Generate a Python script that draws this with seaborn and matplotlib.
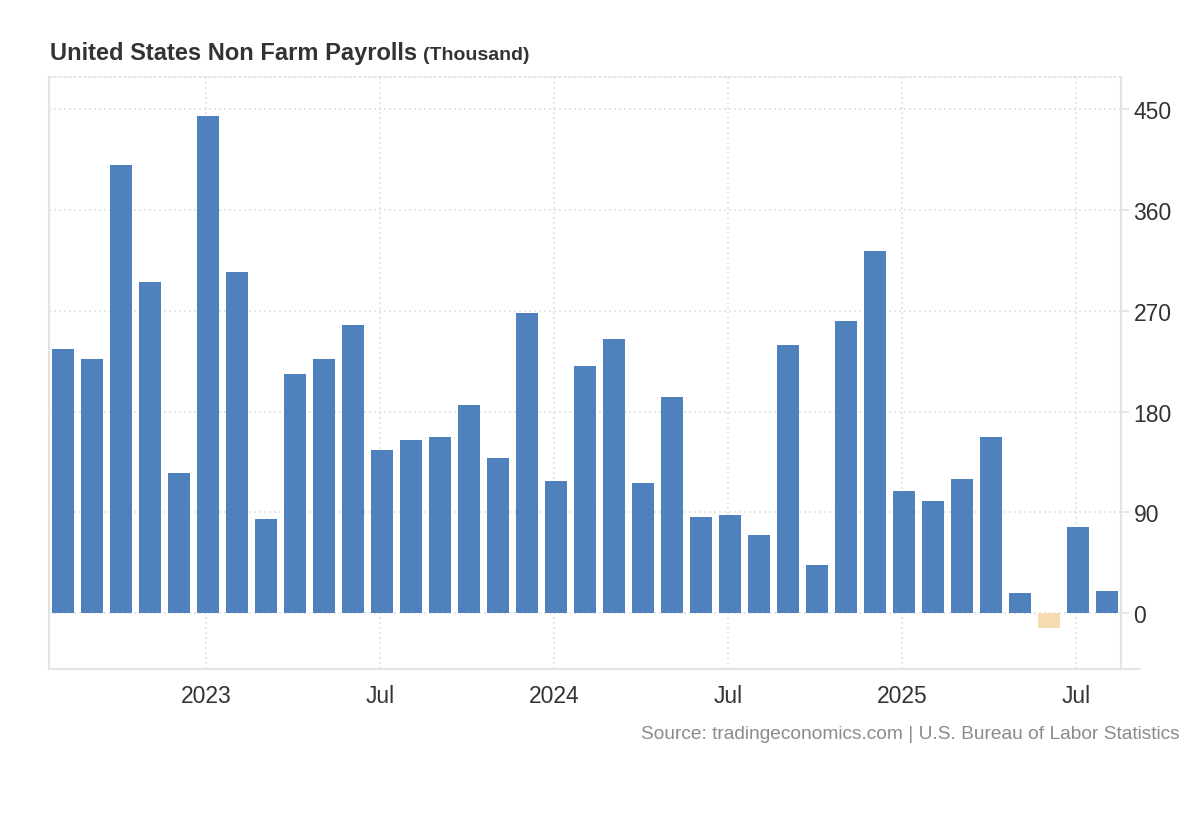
import matplotlib
matplotlib.use("Agg")
import matplotlib.pyplot as plt
from matplotlib.lines import Line2D
import seaborn as sns
import pandas as pd

# ---- data ----
months = ["2022-08", "2022-09", "2022-10", "2022-11", "2022-12",
          "2023-01", "2023-02", "2023-03", "2023-04", "2023-05", "2023-06",
          "2023-07", "2023-08", "2023-09", "2023-10", "2023-11", "2023-12",
          "2024-01", "2024-02", "2024-03", "2024-04", "2024-05", "2024-06",
          "2024-07", "2024-08", "2024-09", "2024-10", "2024-11", "2024-12",
          "2025-01", "2025-02", "2025-03", "2025-04", "2025-05", "2025-06",
          "2025-07", "2025-08"]
payrolls = [236, 227, 400, 296, 125,
            444, 305, 84, 214, 227, 257,
            146, 155, 157, 186, 139, 268,
            118, 221, 245, 116, 193, 86,
            88, 70, 239, 43, 261, 323,
            109, 100, 120, 157, 18, -13,
            77, 20]
tick_months = ["2023-01", "2023-07", "2024-01", "2024-07", "2025-01", "2025-07"]
tick_labels = ["2023", "Jul", "2024", "Jul", "2025", "Jul"]
y_ticks = [0, 90, 180, 270, 360, 450]

title_main = "United States Non Farm Payrolls"
title_unit = "(Thousand)"
source_text = "Source: tradingeconomics.com | U.S. Bureau of Labor Statistics"

df = pd.DataFrame({"month": months, "value": payrolls})
df["sign"] = ["neg" if v < 0 else "pos" for v in df["value"]]

# ---- style ----
sns.set_style("white")
plt.rcParams["font.family"] = ["Liberation Sans", "DejaVu Sans"]

BLUE = "#4f81bd"
TAN = "#f6ddb1"
GRID = "#e2e2e2"
SPINE = "#e3e3e3"
TEXT = "#333333"

fig = plt.figure(figsize=(12, 8.2), dpi=100)
ax = fig.add_axes([49 / 1200, 1 - 670 / 820, (1121 - 49) / 1200, (670 - 78) / 820])

sns.barplot(data=df, x="month", y="value", hue="sign",
            palette={"pos": BLUE, "neg": TAN}, order=months,
            width=0.76, dodge=False, legend=False, saturation=1,
            linewidth=0, edgecolor="none", ax=ax)

ax.set_xlim(-0.48, len(months) - 1 + 0.48)
ax.set_ylim(-49.7, 478.6)

# x ticks
tick_pos = [months.index(m) - 0.07 for m in tick_months]
ax.set_xticks(tick_pos)
ax.set_xticklabels(tick_labels)
ax.tick_params(axis="x", length=0, pad=11, labelsize=16.5, labelcolor=TEXT)

# y ticks on right
ax.yaxis.tick_right()
ax.set_yticks(y_ticks)
ax.set_yticklabels([str(v) for v in y_ticks])
ax.tick_params(axis="y", length=6, width=1.2, color=SPINE, pad=3,
               labelsize=16.5, labelcolor=TEXT, left=False, right=True)

ax.set_xlabel("")
ax.set_ylabel("")

# grid
ax.set_axisbelow(True)
ax.grid(True, axis="both", color=GRID, linestyle=(0, (1.2, 1.8)), linewidth=1.2)

# spines
for s in ["left", "right", "bottom"]:
    ax.spines[s].set_visible(True)
    ax.spines[s].set_color(SPINE)
    ax.spines[s].set_linewidth(1.5)
ax.spines["top"].set_visible(True)
ax.spines["top"].set_color(GRID)
ax.spines["top"].set_linewidth(1.2)
ax.spines["top"].set_linestyle((0, (1.2, 1.8)))

# bottom line extends a bit past the right axis
ax.add_line(Line2D([1.0, 1.018], [0, 0], transform=ax.transAxes,
                   color=SPINE, linewidth=1.5, clip_on=False))

# titles
t1 = fig.text(50 / 1200, 1 - 60 / 820, title_main, fontsize=17, fontweight="bold",
              color=TEXT, ha="left", va="baseline")
fig.canvas.draw()
bb = t1.get_window_extent(renderer=fig.canvas.get_renderer())
fig.text((bb.x1 + 6) / 1200, 1 - 60 / 820, title_unit, fontsize=14, fontweight="bold",
         color=TEXT, ha="left", va="baseline")

fig.text(1180 / 1200, 1 - 739 / 820, source_text, fontsize=13.8, color="#8a8a8a",
         ha="right", va="baseline")

fig.savefig("out.png", dpi=100, facecolor="white")
